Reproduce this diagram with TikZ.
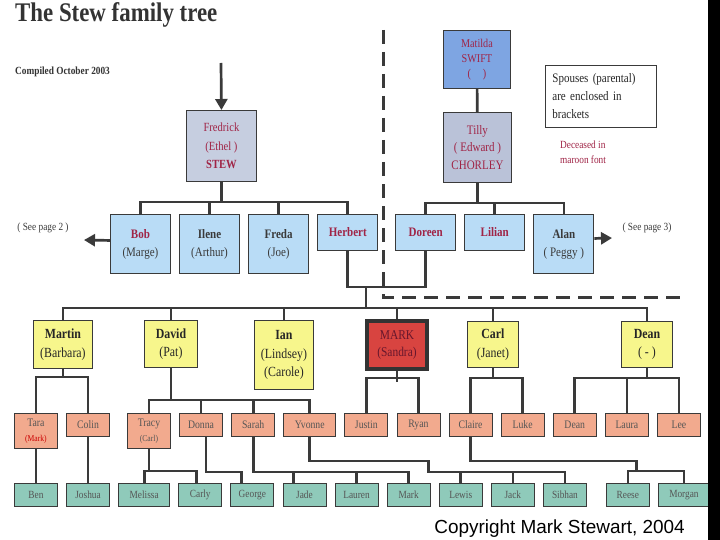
\documentclass[tikz,border=0pt]{standalone}
\usepackage{fontspec}
\setmainfont[FakeStretch=0.85]{Liberation Serif}
\newfontfamily\copyfont{Liberation Sans}
\usepackage{xcolor}
\usetikzlibrary{arrows.meta, positioning}

\definecolor{deadred}{RGB}{160,36,70}
\definecolor{inkgray}{RGB}{58,58,58}
\definecolor{textgray}{RGB}{85,85,85}
\definecolor{elderfill}{RGB}{198,206,224}
\definecolor{swiftfill}{RGB}{126,165,226}
\definecolor{chorleyfill}{RGB}{186,194,216}
\definecolor{childfill}{RGB}{185,220,246}
\definecolor{grandfill}{RGB}{247,246,140}
\definecolor{markfill}{RGB}{216,68,64}
\definecolor{greatfill}{RGB}{242,170,142}
\definecolor{greatgreatfill}{RGB}{143,202,186}

\newcommand{\deceased}[1]{\textcolor{deadred}{#1}}

\begin{document}
\begin{tikzpicture}[
  x=1bp, y=-1bp,
  node distance=8.2bp,
  box/.style={rectangle, draw=inkgray, line width=0.9bp, anchor=north west, align=center, inner sep=1bp},
  nextto/.style={right=of #1.north east, anchor=north west},
  elder/.style={box, fill=elderfill, text=deadred, font=\fontsize{12.5}{18.5}\selectfont},
  child/.style={box, fill=childfill, text=inkgray, minimum width=60bp, minimum height=59bp, font=\fontsize{13}{18}\selectfont},
  grandchild/.style={box, fill=grandfill, text=black!85, font=\fontsize{14}{18.5}\selectfont},
  greatgrand/.style={box, fill=greatfill, text=textgray, minimum width=43bp, minimum height=23bp, font=\fontsize{11.5}{15}\selectfont},
  greatgreat/.style={box, fill=greatgreatfill, text=textgray, minimum width=43bp, minimum height=23bp, font=\fontsize{11}{14}\selectfont},
  link/.style={draw=inkgray, line width=2.7bp},
  arrow/.style={link, -{Triangle[length=11bp, width=12bp]}},
  divider/.style={draw=inkgray, line width=3bp, dash pattern=on 14bp off 8bp},
  note/.style={inner sep=0pt, font=\fontsize{11}{15}\selectfont}
]
\fill[white] (0,0) rectangle (720,540);
\useasboundingbox (0,0) rectangle (720,540);

% heading
\node[anchor=base west, inner sep=0pt, text=black!80, font=\fontsize{27}{27}\selectfont\bfseries] (title) at (15,22) {The Stew family tree};
\node[note, anchor=west, text=black!80, font=\fontsize{11}{11}\selectfont\bfseries] (compiled) at (15,72) {Compiled October 2003};

% first generation
\node[elder, minimum width=70bp, minimum height=71bp] (fredrick) at (186,110) {Fredrick\\(Ethel )\\\textbf{STEW}};
\node[elder, fill=swiftfill, minimum width=67bp, minimum height=58bp, font=\fontsize{12}{15}\selectfont] (matilda) at (443,30) {Matilda\\SWIFT\\(\quad )};
\node[elder, fill=chorleyfill, minimum width=68bp, minimum height=70bp, font=\fontsize{13}{17.5}\selectfont] (tilly) at (443,112) {Tilly\\( Edward )\\CHORLEY};

\node[box, fill=white, align=left, text=black!85, line width=0.8bp, minimum width=111bp, minimum height=62bp, text width=97bp, inner sep=6bp, font=\fontsize{13}{18}\selectfont] (legend) at (545,65) {Spouses (parental)\\are enclosed in\\brackets};
\node[note, anchor=north west, align=left, text=deadred] (deadnote) at (560,141) {Deceased in\\maroon font};

% second generation
\node[child] (bob) at (110,214) {\deceased{\textbf{Bob}}\\(Marge)};
\node[child, nextto=bob] (ilene) {\textbf{Ilene}\\(Arthur)};
\node[child, nextto=ilene] (freda) {\textbf{Freda}\\(Joe)};
\node[child, nextto=freda, minimum height=36bp] (herbert) {\deceased{\textbf{Herbert}}};
\node[child, nextto=herbert, xshift=8.8bp, minimum height=36bp] (doreen) {\deceased{\textbf{Doreen}}};
\node[child, nextto=doreen, minimum height=36bp] (lilian) {\deceased{\textbf{Lilian}}};
\node[child, nextto=lilian] (alan) {\textbf{Alan}\\( Peggy )};

\node[note, text=inkgray] (seepage2) at (43,228) {( See page 2 )};
\node[note, text=inkgray] (seepage3) at (647,228) {( See page 3)};
\coordinate (lineage) at (221,63);
\coordinate (page2) at (84,240);
\coordinate (page3) at (612,238);

% third generation
\node[grandchild, minimum width=59bp, minimum height=48bp] (martin) at (33,320) {\textbf{Martin}\\(Barbara)};
\node[grandchild, minimum width=53bp, minimum height=47bp] (david) at (144,320) {\textbf{David}\\(Pat)};
\node[grandchild, minimum width=59bp, minimum height=69bp] (ian) at (254,320) {\textbf{Ian}\\(Lindsey)\\(Carole)};
\node[box, fill=markfill, draw=black!80, line width=4bp, text=deadred!65!black, minimum width=60bp, minimum height=48bp, font=\fontsize{13.5}{18}\selectfont] (mark) at (365,319) {MARK\\(Sandra)};
\node[grandchild, minimum width=51bp, minimum height=46bp] (carl) at (467,321) {\textbf{Carl}\\(Janet)};
\node[grandchild, minimum width=51bp, minimum height=46bp] (dean) at (621,321) {\textbf{Dean}\\( - )};

% fourth generation
\node[greatgrand, minimum height=35bp] (tara) at (14,413) {Tara\\{\fontsize{9}{9}\selectfont\textcolor{red!80!black}{(Mark)}}};
\node[greatgrand, nextto=tara] (colin) {Colin};
\node[greatgrand, nextto=colin, xshift=8.8bp, minimum height=35bp] (tracy) {Tracy\\{\fontsize{9}{9}\selectfont(Carl)}};
\node[greatgrand, nextto=tracy] (donna) {Donna};
\node[greatgrand, nextto=donna] (sarah) {Sarah};
\node[greatgrand, nextto=sarah, minimum width=52bp] (yvonne) {Yvonne};
\node[greatgrand, nextto=yvonne] (justin) {Justin};
\node[greatgrand, nextto=justin] (ryan) {Ryan};
\node[greatgrand, nextto=ryan] (claire) {Claire};
\node[greatgrand, nextto=claire] (luke) {Luke};
\node[greatgrand, nextto=luke] (dean2) {Dean};
\node[greatgrand, nextto=dean2] (laura) {Laura};
\node[greatgrand, nextto=laura] (lee) {Lee};

% fifth generation
\node[greatgreat] (ben) at (14,483) {Ben};
\node[greatgreat, nextto=ben] (joshua) {Joshua};
\node[greatgreat, nextto=joshua, minimum width=51bp] (melissa) {Melissa};
\node[greatgreat, nextto=melissa] (carly) {Carly};
\node[greatgreat, nextto=carly] (george) {George};
\node[greatgreat, nextto=george] (jade) {Jade};
\node[greatgreat, nextto=jade] (lauren) {Lauren};
\node[greatgreat, nextto=lauren] (mark2) {Mark};
\node[greatgreat, nextto=mark2] (lewis) {Lewis};
\node[greatgreat, nextto=lewis] (jack) {Jack};
\node[greatgreat, nextto=jack] (sibhan) {Sibhan};
\node[greatgreat, nextto=sibhan, xshift=10.8bp] (reese) {Reese};
\node[greatgreat, nextto=reese, minimum width=51bp] (morgan) {Morgan};

\node[anchor=base east, inner sep=0pt, font=\copyfont\fontsize{19}{19}\selectfont] (copyright) at (685,533) {Copyright Mark Stewart, 2004};

% divider between the two sides
\draw[divider] (383,30) |- (683,297);

% connectors
\draw[arrow] (lineage) -- (fredrick.north);
\draw[arrow] ([yshift=3.5bp]bob.west) -- (page2);
\draw[arrow] ([yshift=5.5bp]alan.east) -- (page3);
\draw[link] (matilda) -- (tilly);

\draw[link] (fredrick.south) -- ++(0,21);
\draw[link] (bob.north) -- ++(0,-12) -| (herbert.north);
\foreach \n in {ilene, freda} \draw[link] (\n.north) -- ++(0,-12);
\draw[link] (tilly.south) -- ++(0,21);
\draw[link] (doreen.north) -- ++(0,-11) -| (alan.north);
\draw[link] (lilian.north) -- ++(0,-11);

\coordinate (wedding) at (366,287);
\coordinate (bus) at (366,308);
\draw[link] (herbert.south) |- (wedding) -| (doreen.south);
\draw[link] (wedding) -- (bus);
\draw[link] (martin.north) |- (bus) -| (dean.north);
\foreach \n in {david, ian, mark, carl} \draw[link] (\n.north) -- (\n.north |- bus);

\draw[link] (martin.south) -- ++(0,9);
\draw[link] (tara.north) -- ++(0,-36) -| (colin.north);
\draw[link] (david.south) -- ++(0,33);
\draw[link] (tracy.north) -- ++(0,-13) -| (yvonne.north);
\foreach \n in {donna, sarah} \draw[link] (\n.north) -- ++(0,-13);
\draw[link] (mark.south) -- ++(0,11);
\draw[link] (justin.north) -- ++(0,-35) -| (ryan.north);
\draw[link] (carl.south) -- ++(0,11);
\draw[link] (claire.north) -- ++(0,-35) -| (luke.north);
\draw[link] (dean.south) -- ++(0,11);
\draw[link] (dean2.north) -- ++(0,-35) -| (lee.north);
\draw[link] (laura.north) -- ++(0,-35);

\draw[link] (tara) -- (ben);
\draw[link] (colin) -- (joshua);
\draw[link] (tracy.south) -- ++(0,23);
\draw[link] (melissa.north) -- ++(0,-12) -| ([xshift=-4bp]carly.north);
\draw[link] ([xshift=5bp]donna.south) -- ++(0,35) -| ([xshift=-11bp]george.north);
\draw[link] (sarah.south) -- ++(0,35) -| (mark2.north);
\draw[link] ([xshift=-11bp]jade.north) -- ++(0,-12);
\draw[link] (lauren.north) -- ++(0,-12);
\draw[link] (yvonne.south) |- ++(119,24) -- ++(0,11) -| (sibhan.north);
\foreach \n in {lewis, jack} \draw[link] (\n.north) -- ++(0,-12);
\draw[link] (claire.south) |- ++(166,24) -- ++(0,11);
\draw[link] (reese.north) -- ++(0,-12) -| (morgan.north);

\fill[black] (708,0) rectangle (720,540);
\end{tikzpicture}
\end{document}
